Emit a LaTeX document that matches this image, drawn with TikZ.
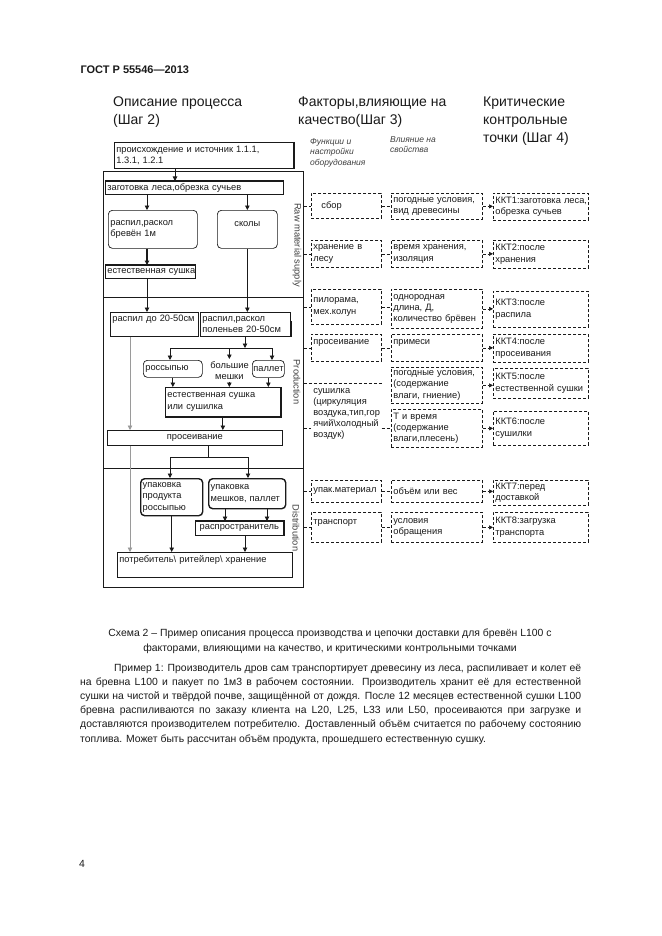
\documentclass[tikz,border=0pt]{standalone}
\usepackage{fontspec}
\setmainfont{Liberation Sans}
\usepackage{tikz}
\usetikzlibrary{arrows.meta,positioning}
\definecolor{ink}{HTML}{1A1A1A}
\definecolor{soft}{HTML}{9A9A9A}
\definecolor{muted}{HTML}{404040}
\tikzset{
  ar/.style={-{Triangle[length=4.5pt,width=4.5pt]},line width=0.9pt,ink},
  gar/.style={-{Triangle[length=4.5pt,width=4.5pt]},line width=0.7pt,soft},
  bx/.style={draw=ink,line width=0.7pt,anchor=north west,align=left,inner xsep=2pt,inner ysep=1pt,font=\fontsize{9.3}{11.3}\selectfont,text=ink},
  rbx/.style={bx,rounded corners=4pt},
  dbx/.style={bx,dash pattern=on 3pt off 2pt},
  dl/.style={line width=0.7pt,ink,dash pattern=on 3pt off 2pt},
  dar/.style={dl,-{Triangle[length=4pt,width=4pt]}},
  lab/.style={rotate=-90,font=\fontsize{9.3}{10}\selectfont,muted},
  hd/.style={anchor=north west,align=left,font=\fontsize{14}{18}\selectfont,text=ink,inner sep=0pt},
  sub/.style={anchor=north west,align=left,font=\fontsize{8.5}{10.5}\selectfont\itshape,muted,inner sep=0pt},
  txt/.style={font=\fontsize{10.4}{14.2}\selectfont,text=ink,inner sep=0pt}
}
\begin{document}
\begin{tikzpicture}[x=1pt,y=-1pt]
\fill[white] (0,0) rectangle (661,936);
\useasboundingbox (0,0) rectangle (661,936);
\node[anchor=west,font=\bfseries\fontsize{11}{13}\selectfont,ink] (gost) at (77,70) {ГОСТ Р 55546—2013};
\node[hd] (h2) at (113,97) {Описание процесса\\(Шаг 2)};
\node[hd] (h3) at (298,97) {Факторы,влияющие на\\качество(Шаг 3)};
\node[hd] (h4) at (483,97) {Критические\\контрольные\\точки (Шаг 4)};
\node[sub] (s1) at (310,138) {Функции и\\настройки\\оборудования};
\node[sub] (s2) at (390,136) {Влияние на\\свойства};

% process description
\node[bx,text width=175pt,minimum height=26pt] (orig) at (114,142) {происхождение~и~источник~1.1.1,\\1.3.1,~1.2.1};
\draw[line width=1.6pt,ink] (orig.north east) -- (orig.south east);
\node[draw=ink,line width=0.8pt,anchor=north west,minimum width=200pt,minimum height=416pt,inner sep=0pt] (frame) at (103,171) {};
\coordinate (d1) at (0,297);
\coordinate (d2) at (0,468);
\draw[line width=0.8pt,ink] (frame.west |- d1) -- (frame.east |- d1);
\draw[line width=0.8pt,ink] (frame.west |- d2) -- (frame.east |- d2);
\node[lab] (lraw) at (297,245) {Raw material supply};
\node[lab] (lprod) at (297,382) {Production};
\node[lab] (ldist) at (296,528) {Distribution};

\node[bx,text width=174pt,minimum height=13pt] (harv) at (105,181) {заготовка~леса,обрезка~сучьев};
\draw[line width=1.6pt,ink] (harv.north west) -- (harv.north east);
\node[rbx,text width=85pt,minimum height=38pt] (splitA) at (108,210) {распил,раскол\\бревён~1м};
\node[rbx,align=center,text width=56pt,minimum height=38pt] (chips) at (217,210) {сколы\\~};
\node[bx,text width=86pt,minimum height=13pt] (dry1) at (105,265) {естественная~сушка};
\draw[line width=1.6pt,ink] (dry1.north west) -- (dry1.north east);
\node[bx,text width=84pt,minimum height=24pt] (cut) at (110,312) {распил~до~20-50см\\~};
\node[bx,text width=86pt,minimum height=24pt] (split2) at (200,312) {распил,раскол\\поленьев~20-50см};
\draw[line width=1.6pt,ink] ([yshift=-9pt]split2.north east) -- (split2.south east);
\node[rbx,text width=55pt,minimum height=17pt] (loose) at (143,360) {россыпью};
\node[bx,draw=none,align=center,text width=38pt,minimum height=22pt] (bags) at (208,359) {большие\\мешки};
\node[rbx,inner xsep=1pt,text width=30pt,minimum height=17pt] (pallet) at (252,360) {паллет};
\node[bx,text width=111pt,minimum height=29pt] (dry2) at (165,387) {естественная~сушка\\или~сушилка};
\draw[line width=1.6pt,ink] (dry2.north east) -- (dry2.south east) -- (dry2.south west);
\node[bx,align=center,text width=171pt,minimum height=15pt] (screen) at (107,430) {просеивание};
\node[rbx,line width=1.4pt,text width=58pt,minimum height=37pt] (packL) at (140,478) {упаковка\\продукта\\россыпью};
\node[rbx,line width=1.4pt,text width=73pt,minimum height=30pt] (packB) at (208,478) {упаковка\\мешков,~паллет};
\node[bx,align=center,text width=84pt,minimum height=14pt] (dist) at (195,521) {распространитель};
\draw[line width=1.6pt,ink] (dist.north west) -- (dist.north east) -- (dist.south east);
\node[bx,text width=171pt,minimum height=25pt] (cons) at (117,552) {потребитель\textbackslash{}~ритейлер\textbackslash{}~хранение\\~};

\coordinate (xa) at (147,0);
\coordinate (g) at (130,0);
\coordinate (b0) at (245,348);
\coordinate (bl) at (170,348);
\coordinate (br) at (272,348);
\coordinate (c0) at (208,457);
\coordinate (cl) at (170,457);
\coordinate (cr) at (248,457);
\coordinate (p1) at (225,0);
\coordinate (p2) at (267,0);
\coordinate (q) at (245,0);
\draw[ar] (orig.south -| 175,0) -- (harv.north -| 175,0);
\draw[ar] (harv.south -| xa) -- (splitA.north -| xa);
\draw[ar] (harv.south -| chips.north) -- (chips.north);
\draw[ar,line width=1.4pt] (splitA.south -| xa) -- (dry1.north -| xa);
\draw[ar] (dry1.south -| xa) -- (cut.north -| xa);
\draw[ar] (chips.south) -- (chips.south |- split2.north);
\draw[ar] (split2.south -| b0) -- (b0);
\draw[line width=0.9pt,ink] (bl) -- (br);
\draw[ar] (bl) -- (bl |- loose.north);
\draw[ar] (bags.north |- b0) -- (bags.north);
\draw[ar] (br) -- (br |- pallet.north);
\draw[ar] (loose.south) -- (loose.south |- dry2.north);
\draw[ar] (bags.south) -- (bags.south |- dry2.north);
\draw[ar] (pallet.south) -- (pallet.south |- dry2.north);
\draw[ar] (dry2.south) -- (dry2.south |- screen.north);
\draw[gar] (cut.south -| g) -- (screen.north -| g);
\draw[gar] (screen.south -| g) -- (cons.north -| g);
\draw[line width=0.9pt,ink] (screen.south -| c0) -- (c0);
\draw[line width=0.9pt,ink] (cl) -- (cr);
\draw[ar] (cl) -- (cl |- packL.north);
\draw[ar] (cr) -- (cr |- packB.north);
\draw[ar] (packB.south -| p1) -- (dist.north -| p1);
\draw[ar] (packB.south -| p2) -- (dist.north -| p2);
\draw[ar] (packL.south) -- (packL.south |- cons.north);
\draw[ar] (dist.south -| q) -- (cons.north -| q);

% factors and control points
\node[dbx,text width=66pt,minimum height=25pt] (f1) at (311,193) {\hspace*{8pt}сбор};
\node[dbx,text width=87pt,minimum height=26pt] (q1) at (391,193) {погодные~условия,\\вид~древесины};
\node[dbx,text width=91pt,minimum height=27pt] (k1) at (493,193) {ККТ1:заготовка~леса,\\обрезка~сучьев};
\node[dbx,text width=66pt,minimum height=27pt] (f2) at (311,240) {хранение~в\\лесу};
\node[dbx,text width=87pt,minimum height=27pt] (q2) at (391,240) {время~хранения,\\изоляция};
\node[dbx,text width=91pt,minimum height=28pt] (k2) at (493,240) {ККТ2:после\\хранения};
\node[dbx,text width=66pt,minimum height=35pt] (f3) at (311,289) {пилорама,\\мех.колун};
\node[dbx,text width=87pt,minimum height=39pt] (q3) at (391,289) {однородная\\длина,~Д,\\количество~брёвен};
\node[dbx,text width=91pt,minimum height=36pt] (k3) at (493,291) {ККТ3:после\\распила};
\node[dbx,text width=66pt,minimum height=27pt] (f4) at (311,334) {просеивание\\~};
\node[dbx,text width=87pt,minimum height=27pt] (q4) at (391,334) {примеси\\~};
\node[dbx,text width=91pt,minimum height=28pt] (k4) at (493,334) {ККТ4:после\\просеивания};
\node[dbx,text width=87pt,minimum height=36pt] (q5) at (391,367) {погодные~условия,\\(содержание\\влаги,~гниение)};
\node[dbx,text width=91pt,minimum height=30pt] (k5) at (493,368) {ККТ5:после\\естественной~сушки};
\node[bx,draw=none,text width=66pt,minimum height=62pt,font=\fontsize{9.3}{11}\selectfont] (f5) at (311,383) {сушилка\\(циркуляция\\воздука,тип,гор\\ячий\textbackslash холодный\\воздук)};
\node[dbx,text width=87pt,minimum height=38pt] (q6) at (391,409) {Т~и~время\\(содержание\\влаги,плесень)};
\node[dbx,text width=91pt,minimum height=34pt] (k6) at (493,411) {ККТ6:после\\сушилки};
\node[dbx,text width=66pt,minimum height=22pt] (f7) at (311,480) {упак.материал};
\node[dbx,text width=87pt,minimum height=22pt] (q7) at (391,480) {объём~или~вес};
\node[dbx,text width=91pt,minimum height=25pt] (k7) at (493,480) {ККТ7:перед\\доставкой};
\node[dbx,text width=66pt,minimum height=30pt] (f8) at (311,512) {транспорт\\~};
\node[dbx,text width=87pt,minimum height=30pt] (q8) at (391,512) {условия\\обращения};
\node[dbx,text width=91pt,minimum height=30pt] (k8) at (493,512) {ККТ8:загрузка\\транспорта};

\foreach \n in {f1,f2,f3,f4,f7,f8}
  \draw[dl] (frame.east |- \n.west) -- (\n.west);
\draw[dl] (frame.east |- f5.north) -- (f5.north east);
\draw[dl] (frame.east |- q6.west) -- (f5.west |- q6.west);
\draw[dl] (f5.east |- q6.west) -- (q6.west);
\foreach \a/\b in {f1/q1,f2/q2,f3/q3,f4/q4,f7/q7,f8/q8}
  \draw[dl] (\a.east) -- (\a.east -| \b.west);
\foreach \a/\b in {q1/k1,q2/k2,q3/k3,q4/k4,q5/k5,q6/k6,q7/k7,q8/k8}
  \draw[dar] (\a.east) -- (\a.east -| \b.west);

% caption and text
\node[txt,anchor=north,align=center] (cap) at (330,629) {Схема 2 – Пример описания процесса производства и цепочки доставки для бревён L100 с\\факторами, влияющими на качество, и критическими контрольными точками};
\foreach \ln [count=\i from 0] in {
  {\hspace*{34pt}Пример 1: Производитель дров сам транспортирует древесину из леса, распиливает и колет её},
  {на бревна L100 и пакует по 1м3 в рабочем состоянии. Производитель хранит её для естественной},
  {сушки на чистой и твёрдой почве, защищённой от дождя. После 12 месяцев естественной сушки L100},
  {бревна распиливаются по заказу клиента на L20, L25, L33 или L50, просеиваются при загрузке и},
  {доставляются производителем потребителю. Доставленный объём считается по рабочему состоянию}}
  \node[txt,anchor=base west] (ex\i) at (80,{671+14.2*\i}) {\makebox[501pt][s]{\ln}};
\node[txt,anchor=base west] (ex5) at (80,{671+14.2*5}) {топлива. Может быть рассчитан объём продукта, прошедшего естественную сушку.};
\node[txt] (pg) at (82,864) {4};
\end{tikzpicture}
\end{document}
